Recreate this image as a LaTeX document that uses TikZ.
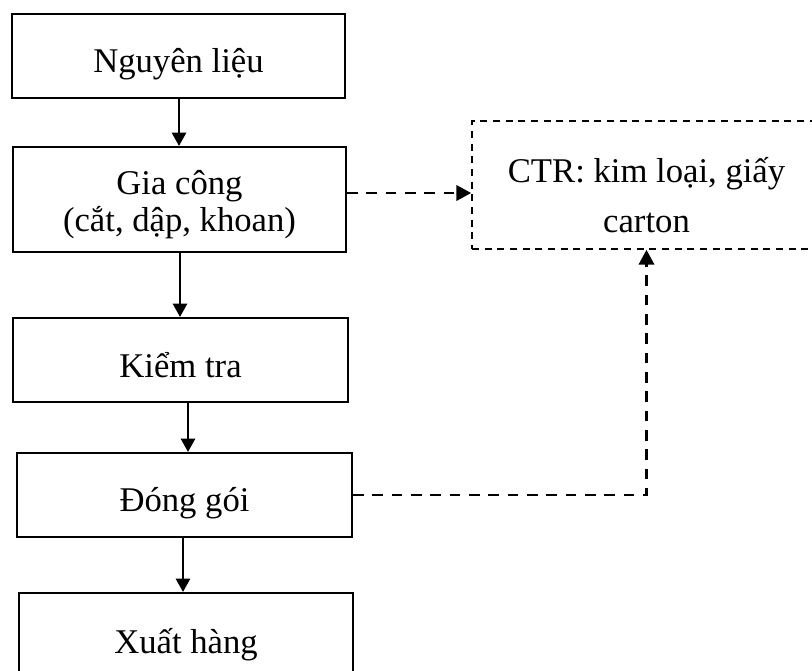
\documentclass[tikz,border=0pt]{standalone}
\usepackage{fontspec}
\setmainfont{Liberation Serif}
\usetikzlibrary{arrows.meta}
\begin{document}
\begin{tikzpicture}[x=0.75pt,y=-0.75pt,
  box/.style={draw, rectangle, line width=1.5pt, inner sep=0pt},
  dbox/.style={draw, rectangle, line width=1.3pt, inner sep=0pt, dash pattern=on 5.3pt off 4.2pt},
  lbl/.style={anchor=base, inner sep=0pt, font=\fontsize{26}{30}\selectfont},
  arr/.style={line width=1.9pt, -{Triangle[length=10pt,width=10.5pt]}},
  darr/.style={line width=1.7pt, dash pattern=on 8pt off 6.5pt, -{Triangle[length=11pt,width=11.5pt]}}]
\useasboundingbox (0,0) rectangle (812,670);
\clip (0,0) rectangle (812,670);
% boxes
\node[box, minimum width=249.75pt, minimum height=63pt] (b1) at (178.5,56) {};
\node[box, minimum width=249.75pt, minimum height=78.75pt] (b2) at (179.5,199.5) {};
\node[box, minimum width=251.25pt, minimum height=63pt] (b3) at (180.5,360) {};
\node[box, minimum width=251.25pt, minimum height=63pt] (b4) at (184.5,495) {};
\node[box, minimum width=250.5pt, minimum height=66pt] (b5) at (186,637) {};
\node[dbox, minimum width=261.75pt, minimum height=96pt] (ctr) at (646.5,185) {};
% labels
\node[lbl] (t1) at (178.5,72.5) {Nguyên liệu};
\node[lbl] (t2a) at (179.5,194.5) {Gia công};
\node[lbl] (t2b) at (179.5,231.5) {(cắt, dập, khoan)};
\node[lbl] (t3) at (180.5,377) {Kiểm tra};
\node[lbl] (t4) at (184.5,511) {Đóng gói};
\node[lbl] (t5) at (186,653) {Xuất hàng};
\node[lbl] (tc1) at (646.5,182) {CTR: kim loại, giấy};
\node[lbl] (tc2) at (646.5,232) {carton};
% helper coordinates
\coordinate (x1) at (179,0);
\coordinate (x2) at (180,0);
\coordinate (x3) at (188,0);
\coordinate (x4) at (183,0);
\coordinate (y2) at (0,193);
% connectors
\draw[arr] (b1.south -| x1) -- (b2.north -| x1);
\draw[arr] (b2.south -| x2) -- (b3.north -| x2);
\draw[arr] (b3.south -| x3) -- (b4.north -| x3);
\draw[arr] (b4.south -| x4) -- (b5.north -| x4);
\draw[darr] (b2.east |- y2) -- (ctr.west |- y2);
\draw[darr] (b4.east) -| (ctr.south);
\end{tikzpicture}
\end{document}
